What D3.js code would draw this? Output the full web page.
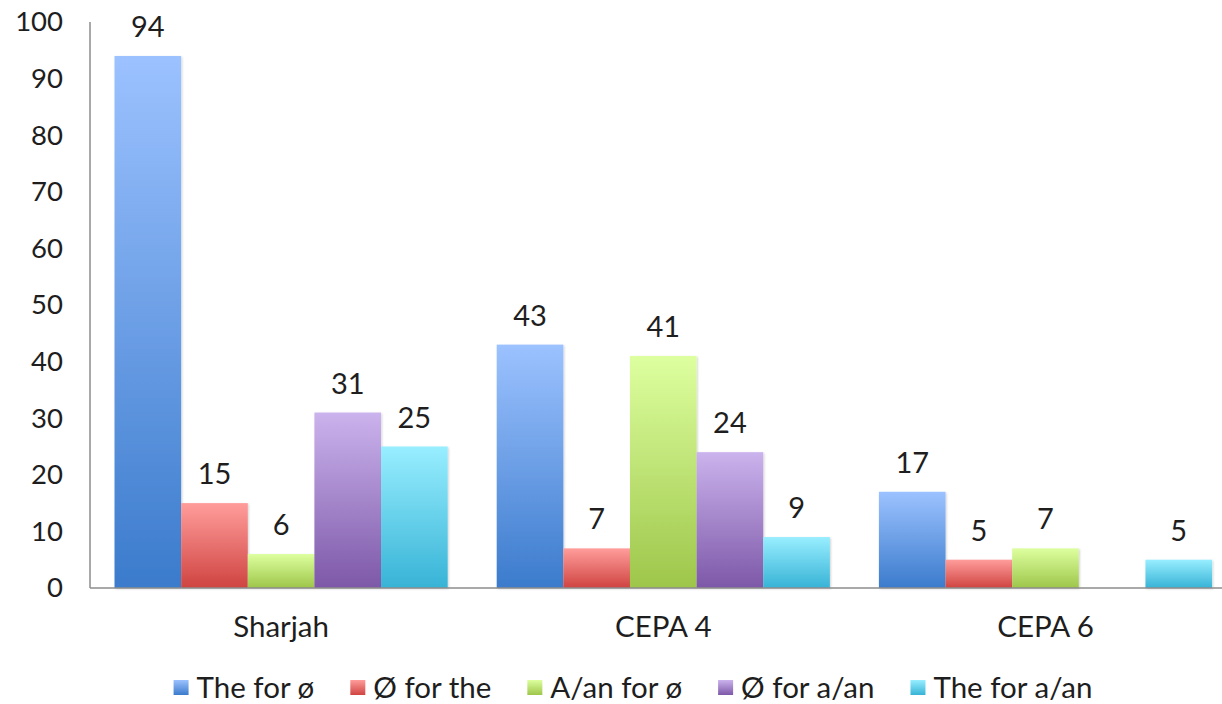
<!DOCTYPE html>
<html>
<head>
<meta charset="utf-8">
<script src="https://cdn.jsdelivr.net/npm/d3@7"></script>
<style>
  html, body { margin: 0; padding: 0; background: #fff; }
  svg { display: block; font-family: Lato, "Open Sans", sans-serif; }
</style>
</head>
<body>
<svg id="chart" width="1222" height="704"></svg>
<script>
// Error counts per test group
const categories = ["Sharjah", "CEPA 4", "CEPA 6"];
const seriesNames = ["The for ø", "Ø for the", "A/an for ø", "Ø for a/an", "The for a/an"];
const theForZero   = [94, 43, 17];
const zeroForThe   = [15, 7, 5];
const aAnForZero   = [6, 41, 7];
const zeroForAAn   = [31, 24, null];
const theForAAn    = [25, 9, 5];
const yTicks = [0, 10, 20, 30, 40, 50, 60, 70, 80, 90, 100];

const seriesValues = [theForZero, zeroForThe, aAnForZero, zeroForAAn, theForAAn];

// top / bottom gradient stops per series
const palette = [
  ["#9cc2ff", "#3b7bcc"],
  ["#ff9d9b", "#cf4441"],
  ["#ddff9f", "#9ec64a"],
  ["#cbb3ed", "#7d58a8"],
  ["#98eeff", "#37b3d6"]
];

const svg = d3.select("#chart");
const W = 1222, H = 704;
const plot = { left: 90, top: 22, bottom: 588 };
const step = 382.2;

const x0 = d3.scaleBand().domain(categories)
  .range([plot.left, plot.left + step * categories.length]).padding(0);
const x1 = d3.scaleBand().domain(seriesNames)
  .range([0, x0.bandwidth()]).paddingInner(0).paddingOuter(0.368);
const y = d3.scaleLinear().domain([0, 100]).range([plot.bottom, plot.top]);

const defs = svg.append("defs");
palette.forEach((c, i) => {
  const g = defs.append("linearGradient").attr("id", "grad" + i)
    .attr("x1", 0).attr("y1", 0).attr("x2", 0).attr("y2", 1);
  g.append("stop").attr("offset", "0%").attr("stop-color", c[0]);
  g.append("stop").attr("offset", "100%").attr("stop-color", c[1]);
});
const shadow = defs.append("filter").attr("id", "shadow")
  .attr("x", "-10%").attr("y", "-10%").attr("width", "120%").attr("height", "120%");
shadow.append("feDropShadow").attr("dx", 1).attr("dy", 1)
  .attr("stdDeviation", 1.2).attr("flood-color", "#000").attr("flood-opacity", 0.18);

// y axis: labels only, plus the vertical line
const yAxis = d3.axisLeft(y).tickValues(yTicks).tickSize(0).tickPadding(27);
const gy = svg.append("g").attr("transform", `translate(${plot.left},0)`).call(yAxis);
gy.select(".domain").remove();
gy.selectAll("text").attr("font-size", 27.5).attr("fill", "#1e1e1e")
  .attr("font-family", "Lato, sans-serif");

// bars
const rows = [];
categories.forEach((cat, ci) => {
  seriesNames.forEach((s, si) => {
    const v = seriesValues[si][ci];
    if (v !== null && v !== undefined) rows.push({ cat, s, si, v });
  });
});

const barG = svg.append("g");
barG.selectAll("rect").data(rows).join("rect")
  .attr("x", d => x0(d.cat) + x1(d.s))
  .attr("y", d => y(d.v))
  .attr("width", x1.bandwidth())
  .attr("height", d => y(0) - y(d.v))
  .attr("fill", d => `url(#grad${d.si})`)
  .attr("filter", "url(#shadow)");

// value labels
svg.append("g").selectAll("text").data(rows).join("text")
  .attr("x", d => x0(d.cat) + x1(d.s) + x1.bandwidth() / 2)
  .attr("y", d => y(d.v) - 19)
  .attr("text-anchor", "middle")
  .attr("font-size", 29)
  .attr("fill", "#1e1e1e")
  .text(d => d.v);

// axis lines
svg.append("line").attr("x1", plot.left).attr("x2", plot.left)
  .attr("y1", plot.top).attr("y2", plot.bottom)
  .attr("stroke", "#8c8c8c").attr("stroke-width", 1.5);
svg.append("line").attr("x1", plot.left).attr("x2", W)
  .attr("y1", plot.bottom).attr("y2", plot.bottom)
  .attr("stroke", "#8c8c8c").attr("stroke-width", 1.5);

// category labels
svg.append("g").selectAll("text").data(categories).join("text")
  .attr("x", d => x0(d) + x0.bandwidth() / 2)
  .attr("y", 637)
  .attr("text-anchor", "middle")
  .attr("font-size", 29.5)
  .attr("fill", "#1e1e1e")
  .text(d => d);

// legend
const legend = svg.append("g");
const items = legend.selectAll("g").data(seriesNames).join("g");
items.append("rect")
  .attr("width", 15).attr("height", 15)
  .attr("y", 680)
  .attr("fill", (d, i) => `url(#grad${i})`);
items.append("text")
  .attr("x", 23).attr("y", 698)
  .attr("font-size", 29.5)
  .attr("fill", "#1e1e1e")
  .text(d => d);
const gap = 36;
let cursor = 0;
const widths = [];
items.each(function () {
  const w = 23 + this.querySelector("text").getComputedTextLength();
  widths.push(w);
});
const total = d3.sum(widths) + gap * (widths.length - 1);
cursor = 633 - total / 2;
items.each(function (d, i) {
  d3.select(this).attr("transform", `translate(${cursor},0)`);
  cursor += widths[i] + gap;
});
</script>
</body>
</html>
